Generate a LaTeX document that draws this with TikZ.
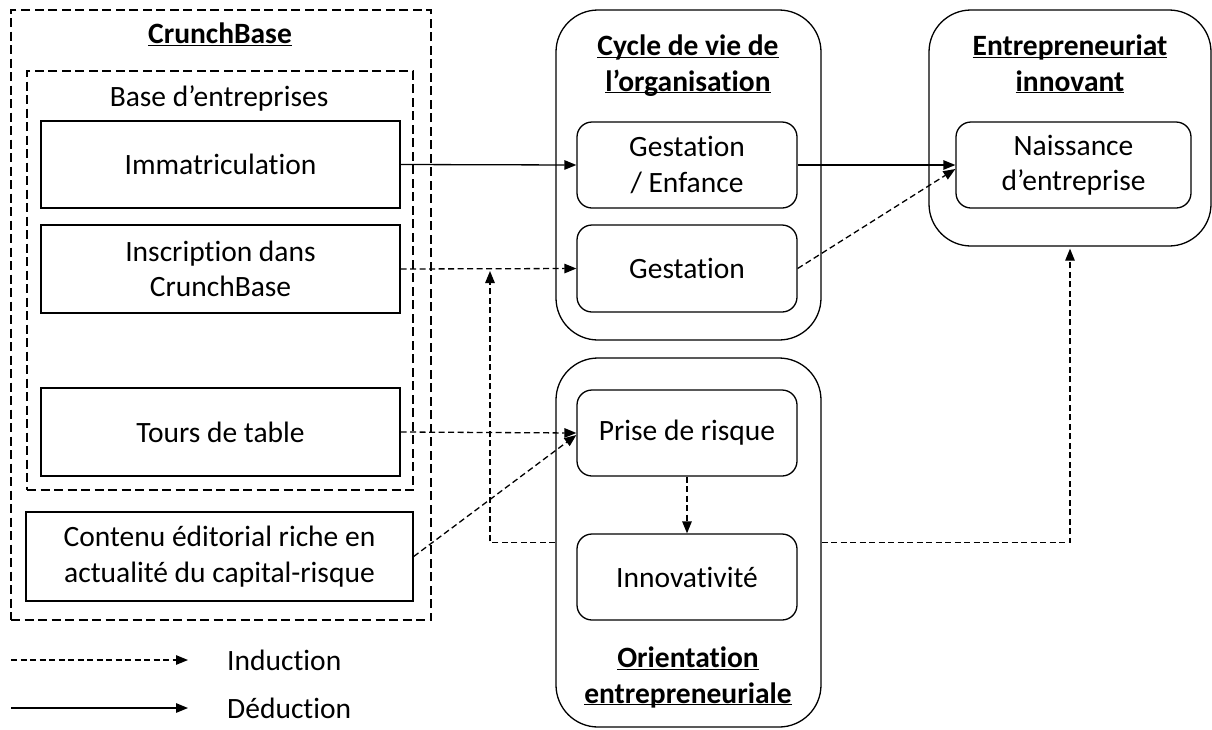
\documentclass[tikz,border=0pt]{standalone}
\usepackage{fontspec}
\setmainfont{Carlito}[Ligatures=NoCommon]
\usetikzlibrary{arrows.meta,calc}
\newcommand\ulbf[1]{\underline{\vphantom{A}\smash{\textbf{#1}}}}
\begin{document}
\begin{tikzpicture}[x=1pt,y=-1pt,
  font=\fontsize{29.5}{35.5}\selectfont,
  every node/.style={inner sep=0pt, align=center},
  dbox/.style={draw, line width=1.3pt, dash pattern=on 9pt off 4.5pt},
  sbox/.style={draw, line width=1.3pt},
  bigbox/.style={draw, line width=1.3pt, rounded corners=42pt},
  rbox/.style={draw, line width=1.3pt, rounded corners=15pt, minimum width=220pt, minimum height=86pt},
  tip/.style={-{Triangle[length=12pt,width=9.5pt]}},
  ded/.style={tip, line width=1.3pt},
  ind/.style={tip, line width=1.3pt, dash pattern=on 6pt off 3.5pt},
]
\useasboundingbox (0,0) rectangle (1212,729);

% CrunchBase side
\node[dbox, minimum width=420pt, minimum height=610pt] (crunch) at (221,315) {};
\node (crunchT) at (220,35) {\ulbf{CrunchBase}};
\node[dbox, minimum width=386pt, minimum height=419pt] (base) at (220,280.5) {};
\node (baseT) at (219,98) {Base d’entreprises};
\node[sbox, minimum width=359pt, minimum height=87pt] (immat) at (220.5,164.5) {Immatriculation};
\node[sbox, minimum width=359pt, minimum height=88pt] (inscr) at (220.5,269) {Inscription dans\\CrunchBase};
\node[sbox, minimum width=359pt, minimum height=88pt] (tours) at (220.5,432) {Tours de table};
\node[sbox, minimum width=387pt, minimum height=89pt] (contenu) at (219.5,556.5) {Contenu éditorial riche en\\actualité du capital-risque};

% Cycle de vie
\node[bigbox, minimum width=265pt, minimum height=330pt] (cycle) at (688.5,175) {};
\node (cycleT) at (688,65) {\ulbf{Cycle de vie de}\\\ulbf{l’organisation}};
\node[rbox] (gestE) at (687,165) {Gestation\\/ Enfance};
\node[rbox, minimum height=87pt] (gest) at (687,268.5) {Gestation};

% Orientation entrepreneuriale
\node[bigbox, minimum width=265pt, minimum height=369pt] (orient) at (688.5,542.5) {};
\node[rbox] (prise) at (687,433) {Prise de risque};
\node[rbox] (innov) at (687,577) {Innovativité};
\node (orientT) at (688,677) {\ulbf{Orientation}\\\ulbf{entrepreneuriale}};

% Entrepreneuriat innovant
\node[bigbox, minimum width=282pt, minimum height=236pt] (entre) at (1070,128) {};
\node (entreT) at (1070,65) {\ulbf{Entrepreneuriat}\\\ulbf{innovant}};
\node[rbox, minimum width=235pt] (naiss) at (1073.5,165) {Naissance\\d’entreprise};

% connectors
\draw[ded] (immat.east) -- (gestE.west);
\draw[ded] (gestE.east) -- (naiss.west);
\draw[ind] (inscr.east) -- (gest.west);
\draw[ind] (gest.east) -- ([yshift=-4pt]naiss.west);
\draw[ind] (tours.east) -- (prise.west);
\draw[ind] (contenu.east) -- ([yshift=-2pt]prise.west);
\draw[ind] (prise.south) -- (innov.north);
\coordinate (j1) at (490,271);
\draw[ind] (orient.west) -| (j1);
\draw[ind] (orient.east) -| ([yshift=-2pt]entre.south);

% legend
\coordinate (l1s) at (11,660);
\coordinate (l1e) at (188,660);
\coordinate (l2s) at (11,708);
\coordinate (l2e) at (188,708);
\draw[ind] (l1s) -- (l1e);
\draw[ded] (l2s) -- (l2e);
\node[anchor=west] (indL) at (227,660) {Induction};
\node[anchor=west] (dedL) at (227,708) {Déduction};
\end{tikzpicture}
\end{document}
